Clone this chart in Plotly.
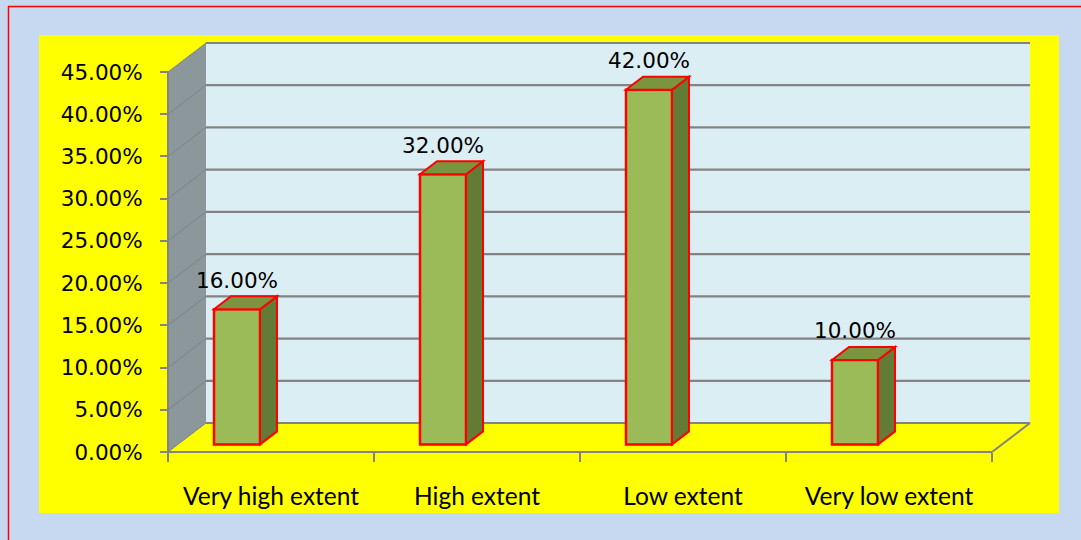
import plotly.graph_objects as go

# ---------------- data ----------------
categories = ["Very high extent", "High extent", "Low extent", "Very low extent"]
values = [16.0, 32.0, 42.0, 10.0]          # percent
y_ticks = [0, 5, 10, 15, 20, 25, 30, 35, 40, 45]
y_tick_text = [f"{t:.2f}%" for t in y_ticks]
value_text = [f"{v:.2f}%" for v in values]

# ---------------- geometry / layout constants ----------------
W, H = 1081, 540
ML, MR, MT, MB = 148, 41, 40, 70
PAD_X, PAD_Y = 20, 18
PXX = 206.0
PXY = 380.0 / 45.0
PLOT_W = W - ML - MR
PLOT_H = H - MT - MB
X0 = -0.5
XR = (X0 - PAD_X / PXX, X0 - PAD_X / PXX + PLOT_W / PXX)
YR = (-PAD_Y / PXY, -PAD_Y / PXY + PLOT_H / PXY)

WALL_DX, WALL_DY = 38 / PXX, 29 / PXY
BAR_BASE = 0.9
BAR_W = 46 / PXX
BAR_SHIFT = -0.165
BAR_DX, BAR_DY = 17 / PXX, 13 / PXY
LABEL_GAP = 3.2

BG = "#C6D9F0"
YELLOW = "#FFFF00"
BACKWALL = "#DBEEF4"
SIDEWALL = "#8C979B"
GRID = "#838383"
FRONT = "#9BBB59"
TOP = "#7A9440"
SIDE = "#637B35"
RED = "#FF0000"
TEXT = "#000000"

def px_to_paper_x(px):
    return (px - ML) / PLOT_W

def px_to_paper_y(py):
    return (H - MB - py) / PLOT_H

shapes = []
shapes.append(dict(type="rect", xref="paper", yref="paper",
                   x0=px_to_paper_x(39), x1=px_to_paper_x(1059),
                   y0=px_to_paper_y(513), y1=px_to_paper_y(35),
                   fillcolor=YELLOW, line=dict(width=0), layer="below"))
shapes.append(dict(type="line", xref="paper", yref="paper",
                   x0=px_to_paper_x(8.5), x1=px_to_paper_x(8.5),
                   y0=px_to_paper_y(6), y1=px_to_paper_y(545),
                   line=dict(color=RED, width=1.5), layer="below"))
shapes.append(dict(type="line", xref="paper", yref="paper",
                   x0=px_to_paper_x(8), x1=px_to_paper_x(1090),
                   y0=px_to_paper_y(6.5), y1=px_to_paper_y(6.5),
                   line=dict(color=RED, width=1.5), layer="below"))

n = len(categories)
ytop = y_ticks[-1]
shapes.append(dict(type="path", xref="x", yref="y", layer="below",
                   path=f"M{X0},0 L{X0},{ytop} L{X0+WALL_DX},{ytop+WALL_DY} L{X0+WALL_DX},{WALL_DY} Z",
                   fillcolor=SIDEWALL, line=dict(width=0)))
shapes.append(dict(type="rect", xref="x", yref="y", layer="below",
                   x0=X0 + WALL_DX, x1=X0 + n + WALL_DX, y0=WALL_DY, y1=ytop + WALL_DY,
                   fillcolor=BACKWALL, line=dict(width=0)))
for t in y_ticks:
    shapes.append(dict(type="line", xref="x", yref="y", layer="below",
                       x0=X0 + WALL_DX, x1=X0 + n + WALL_DX, y0=t + WALL_DY, y1=t + WALL_DY,
                       line=dict(color=GRID, width=2.2)))
    shapes.append(dict(type="line", xref="x", yref="y", layer="below",
                       x0=X0, x1=X0 + WALL_DX, y0=t, y1=t + WALL_DY,
                       line=dict(color="#7A8589", width=1)))
shapes.append(dict(type="line", xref="x", yref="y", layer="below",
                   x0=X0, x1=X0 + n, y0=0, y1=0, line=dict(color=GRID, width=2)))
shapes.append(dict(type="line", xref="x", yref="y", layer="below",
                   x0=X0 + n, x1=X0 + n + WALL_DX, y0=0, y1=WALL_DY, line=dict(color=GRID, width=2)))
shapes.append(dict(type="line", xref="x", yref="y", layer="below",
                   x0=X0, x1=X0, y0=0, y1=ytop, line=dict(color=GRID, width=2)))

for i, v in enumerate(values):
    xl = i + BAR_SHIFT - BAR_W / 2
    xr = xl + BAR_W
    yb = BAR_BASE
    yt = BAR_BASE + v
    shapes.append(dict(type="path", xref="x", yref="y", layer="above",
                       path=f"M{xr},{yb} L{xr+BAR_DX},{yb+BAR_DY} L{xr+BAR_DX},{yt+BAR_DY} L{xr},{yt} Z",
                       fillcolor=SIDE, line=dict(color=RED, width=2)))
    shapes.append(dict(type="path", xref="x", yref="y", layer="above",
                       path=f"M{xl},{yt} L{xl+BAR_DX},{yt+BAR_DY} L{xr+BAR_DX},{yt+BAR_DY} L{xr},{yt} Z",
                       fillcolor=TOP, line=dict(color=RED, width=2)))

fig = go.Figure()
fig.add_trace(go.Bar(
    x=list(range(n)), y=values, base=BAR_BASE,
    width=BAR_W, offset=BAR_SHIFT - BAR_W / 2,
    marker=dict(color=FRONT, line=dict(color=RED, width=2.5)),
    hoverinfo="skip", showlegend=False,
))
fig.add_trace(go.Scatter(
    x=[i + BAR_SHIFT for i in range(n)],
    y=[BAR_BASE + v + LABEL_GAP for v in values],
    mode="text", text=value_text, textposition="middle center",
    textfont=dict(family="DejaVu Sans", size=21.5, color=TEXT),
    hoverinfo="skip", showlegend=False, cliponaxis=False,
))

fig.update_layout(
    width=W, height=H,
    margin=dict(l=ML, r=MR, t=MT, b=MB, pad=0),
    paper_bgcolor=BG, plot_bgcolor="rgba(0,0,0,0)",
    shapes=shapes, showlegend=False, hovermode=False,
    xaxis=dict(
        range=list(XR), anchor="free", position=px_to_paper_y(452),
        showgrid=False, zeroline=False, showline=False,
        tickvals=list(range(n)), ticktext=categories, ticks="",
        ticklabelstandoff=27,
        tickfont=dict(family="Lato", size=24.5, color=TEXT),
        minor=dict(tick0=X0, dtick=1, ticks="outside", ticklen=9,
                   tickcolor=GRID, tickwidth=2, showgrid=False),
    ),
    yaxis=dict(
        range=list(YR), anchor="free", position=px_to_paper_x(168),
        showgrid=False, zeroline=False, showline=False,
        tickvals=y_ticks, ticktext=y_tick_text,
        ticks="outside", ticklen=8, tickcolor=GRID, tickwidth=2,
        ticklabelstandoff=13,
        tickfont=dict(family="DejaVu Sans", size=21.5, color=TEXT),
    ),
)

fig.write_html("out.html")
